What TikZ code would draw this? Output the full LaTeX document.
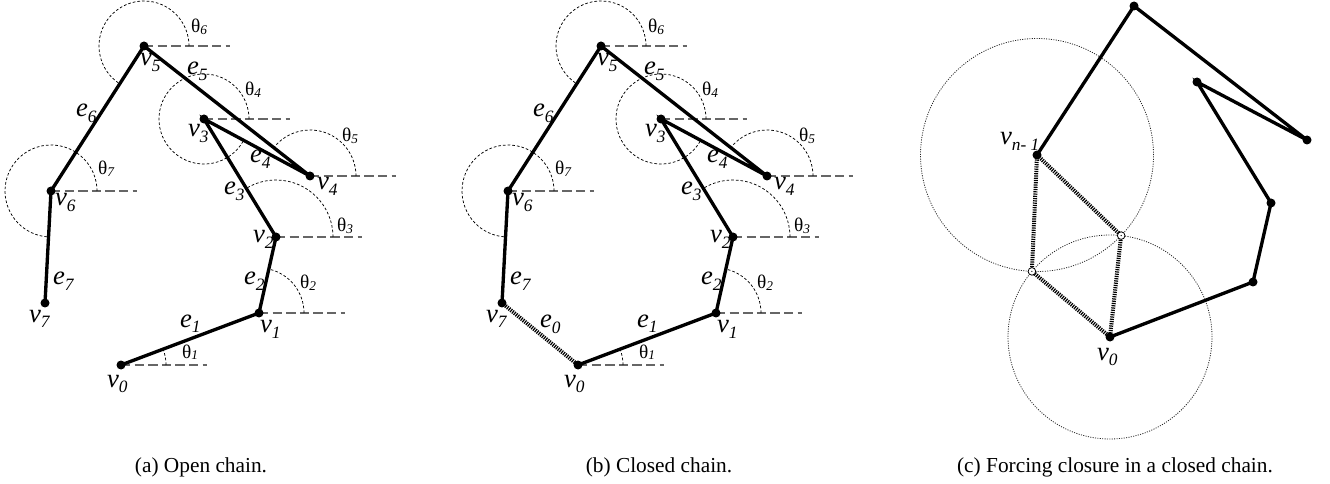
\documentclass[tikz,border=0pt]{standalone}
\usepackage{fontspec}
\setmainfont{Liberation Serif}
\usetikzlibrary{calc,intersections}

\newcommand\vlab[2]{\fontsize{20}{20}\selectfont\itshape #1\raisebox{-3.8pt}{\fontsize{13}{13}\selectfont #2}}
\newcommand\tlab[1]{\fontsize{14.5}{14.5}\selectfont θ\raisebox{-0.8pt}{\fontsize{10}{10}\selectfont\itshape #1}}

\tikzset{
  edge/.style={line width=2.5pt},
  hline/.style={draw=black!60, line width=1.1pt, dash pattern=on 7pt off 3.2pt},
  arcl/.style={line width=0.55pt, dash pattern=on 2pt off 1.5pt},
  closing/.style={line width=3pt, dash pattern=on 0.9pt off 0.8pt},
  dotcirc/.style={draw=black!85, line width=0.6pt, dash pattern=on 0.8pt off 1pt},
  lab/.style={anchor=base west, inner sep=0pt, outer sep=0pt},
  captext/.style={font=\fontsize{16}{16}\selectfont, inner sep=0pt},
}

% draws one chain; #1 = prefix for names
\newcommand\drawchain[1]{%
  \coordinate (#1v0) at (121,-365);
  \coordinate (#1v1) at (259,-313);
  \coordinate (#1v2) at (276,-237);
  \coordinate (#1v3) at (204,-119);
  \coordinate (#1v4) at (310,-176);
  \coordinate (#1v5) at (144,-46);
  \coordinate (#1v6) at (51,-191);
  \coordinate (#1v7) at (45,-303);
  % reference horizontals
  \foreach \i in {0,...,6} {\draw[hline] (#1v\i) -- ++(86,0);}
  % angle arcs
  \draw[arcl] (#1v0) ++(0:45) arc[start angle=0, end angle=20.6, radius=45];
  \draw[arcl] (#1v1) ++(0:45) arc[start angle=0, end angle=77.4, radius=45];
  \draw[arcl] (#1v2) ++(0:57) arc[start angle=0, end angle=121.4, radius=57];
  \draw[arcl] (#1v3) ++(0:45) arc[start angle=0, end angle=331.7, radius=45];
  \draw[arcl] (#1v4) ++(0:46) arc[start angle=0, end angle=141.9, radius=46];
  \draw[arcl] (#1v5) ++(0:45) arc[start angle=0, end angle=237.3, radius=45];
  \draw[arcl] (#1v6) ++(0:46) arc[start angle=0, end angle=266.9, radius=46];
  % edges
  \draw[edge] (#1v0) -- (#1v1) -- (#1v2) -- (#1v3) -- (#1v4) -- (#1v5) -- (#1v6) -- (#1v7);
  \foreach \i in {0,...,7} {\fill (#1v\i) circle[radius=4.5];}
  % vertex labels
  \node[lab] (#1l0) at (107,-387) {\vlab{v}{0}};
  \node[lab] (#1l1) at (260,-333) {\vlab{v}{1}};
  \node[lab] (#1l2) at (253,-243) {\vlab{v}{2}};
  \node[lab] (#1l3) at (188,-137) {\vlab{v}{3}};
  \node[lab] (#1l4) at (317,-190) {\vlab{v}{4}};
  \node[lab] (#1l5) at (140,-66) {\vlab{v}{5}};
  \node[lab] (#1l6) at (55,-206) {\vlab{v}{6}};
  \node[lab] (#1l7) at (29,-322) {\vlab{v}{7}};
  % edge labels
  \node[lab] (#1e1) at (180,-327) {\vlab{e}{1}};
  \node[lab] (#1e2) at (244,-285) {\vlab{e}{2}};
  \node[lab] (#1e3) at (224,-195) {\vlab{e}{3}};
  \node[lab] (#1e4) at (250,-163) {\vlab{e}{4}};
  \node[lab] (#1e5) at (187,-75) {\vlab{e}{5}};
  \node[lab] (#1e6) at (76,-117) {\vlab{e}{6}};
  \node[lab] (#1e7) at (53,-285) {\vlab{e}{7}};
  % angle labels
  \node[lab] (#1t1) at (182,-358) {\tlab{1}};
  \node[lab] (#1t2) at (300,-289) {\tlab{2}};
  \node[lab] (#1t3) at (337,-232) {\tlab{3}};
  \node[lab] (#1t4) at (245,-96) {\tlab{4}};
  \node[lab] (#1t5) at (342,-142) {\tlab{5}};
  \node[lab] (#1t6) at (191,-33) {\tlab{6}};
  \node[lab] (#1t7) at (98,-175) {\tlab{7}};
}

\begin{document}
\begin{tikzpicture}[x=0.75pt, y=0.75pt]
\useasboundingbox (0,0) rectangle (1330,-484);

% (a) open chain
\begin{scope}
  \drawchain{a}
\end{scope}

% (b) closed chain
\begin{scope}[shift={(457,0)}]
  \drawchain{b}
  \draw[closing] (bv7) -- (bv0);
  \node[lab] (be0) at (83,-328) {\vlab{e}{0}};
\end{scope}

% (c) forcing closure
\coordinate (c0) at (1110,-337);
\coordinate (c1) at (1253,-282);
\coordinate (c2) at (1271,-203);
\coordinate (c3) at (1197,-82);
\coordinate (c4) at (1307,-140);
\coordinate (c5) at (1134,-6);
\coordinate (c6) at (1037,-155);
\path[dotcirc, draw, name path=Cn] (c6) circle[radius=116.5];
\path[dotcirc, draw, name path=Cz] (c0) circle[radius=102];
\path[name intersections={of=Cn and Cz, by={p1,p2}}];
\draw[closing] (c6) -- (p1) -- (c0) -- (p2) -- (c6);
\draw[edge] (c0) -- (c1) -- (c2) -- (c3) -- (c4) -- (c5) -- (c6);
\foreach \i in {0,...,6} {\fill (c\i) circle[radius=4.5];}
\foreach \p in {p1,p2} {
  \filldraw[fill=white, draw=black, line width=0.6pt] (\p) circle[radius=3.8];
  \fill (\p) circle[radius=0.7];
}
\node[lab] (cl6) at (1000,-145) {\vlab{v}{n- 1}};
\node[lab] (cl0) at (1097,-360) {\vlab{v}{0}};

% captions
\node[captext] (capa) at (201,-467) {(a) Open chain.};
\node[captext] (capb) at (659,-467) {(b) Closed chain.};
\node[captext] (capc) at (1115,-467) {(c) Forcing closure in a closed chain.};
\end{tikzpicture}
\end{document}
